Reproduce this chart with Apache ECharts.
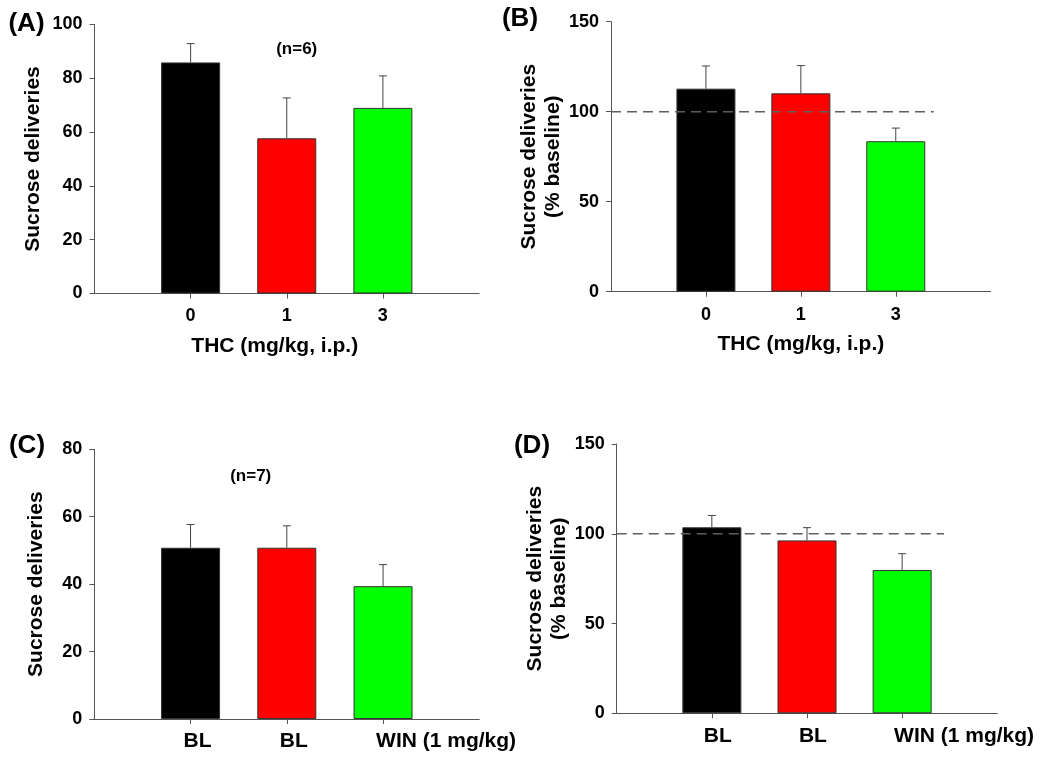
<!DOCTYPE html>
<html>
<head>
<meta charset="utf-8">
<script src="https://cdn.jsdelivr.net/npm/echarts@6/dist/echarts.min.js"></script>
<style>
  html, body { margin: 0; padding: 0; background: #ffffff; }
  #chart { width: 1050px; height: 762px; }
</style>
</head>
<body>
<div id="chart"></div>
<script>
// ---- Data ----
const thcDoses = ['0', '1', '3'];
const winConditions = ['BL', 'BL', 'WIN (1 mg/kg)'];

const panelA_means = [85.9, 57.7, 69.0];
const panelA_sem   = [7.0, 15.0, 11.9];

const panelB_means = [112.8, 110.2, 83.6];
const panelB_sem   = [12.6, 15.4, 7.3];

const panelC_means = [50.8, 50.8, 39.4];
const panelC_sem   = [6.9, 6.5, 6.4];

const panelD_means = [103.6, 96.3, 79.8];
const panelD_sem   = [6.6, 7.1, 9.1];

const barColors = ['#000000', '#ff0000', '#00ff00'];
const baselinePct = 100;
const baselineLineEndB = 3.4;
const baselineLineEndD = 3.44;

const yTicksA = { min: 0, max: 100, interval: 20 };
const yTicksB = { min: 0, max: 150, interval: 50 };
const yTicksC = { min: 0, max: 80, interval: 20 };
const yTicksD = { min: 0, max: 150, interval: 50 };

// ---- Build ----
const FONT = '"Liberation Sans", Arial, Helvetica, sans-serif';
const AXIS_COLOR = '#555555';

const grids = [
  { left: 94.5, top: 24.5, width: 384.5, height: 269 },
  { left: 611, top: 21.7, width: 379.7, height: 270 },
  { left: 94.3, top: 449.3, width: 385, height: 269.7 },
  { left: 616.7, top: 444, width: 380.6, height: 269.3 }
];

function makeXAxis(gi, cats, opts) {
  const pos = cats.map((_, i) => i + 1);
  return {
    type: 'value', gridIndex: gi, min: 0, max: cats.length + 1, interval: 1,
    splitLine: { show: false },
    axisLine: { lineStyle: { color: AXIS_COLOR, width: 1 } },
    axisTick: { show: true, length: 5, inside: false, customValues: pos, lineStyle: { color: AXIS_COLOR } },
    axisLabel: {
      customValues: opts.leftAligned ? pos.map(p => p - opts.labelShift) : pos,
      align: opts.leftAligned ? 'left' : 'center',
      margin: opts.labelMargin,
      color: '#000', fontFamily: FONT, fontWeight: 'bold', fontSize: opts.labelSize,
      formatter: function (v) {
        const idx = Math.round(v) - 1;
        return cats[idx] !== undefined ? cats[idx] : '';
      }
    },
    name: opts.name || '',
    nameLocation: 'middle',
    nameGap: opts.nameGap || 40,
    nameTextStyle: { color: '#000', fontFamily: FONT, fontWeight: 'bold', fontSize: 21, padding: opts.namePadding || 0 }
  };
}

function makeYAxis(gi, ticks, name, nameGap) {
  return {
    type: 'value', gridIndex: gi, min: ticks.min, max: ticks.max, interval: ticks.interval,
    splitLine: { show: false },
    axisLine: { show: true, lineStyle: { color: AXIS_COLOR, width: 1 } },
    axisTick: { show: true, length: 5, lineStyle: { color: AXIS_COLOR } },
    axisLabel: { margin: 12, color: '#000', fontFamily: FONT, fontWeight: 'bold', fontSize: 18 },
    name: name, nameLocation: 'middle', nameRotate: 90, nameGap: nameGap,
    nameTextStyle: { color: '#000', fontFamily: FONT, fontWeight: 'bold', fontSize: 21, lineHeight: 24, align: 'center' }
  };
}

function barSeries(gi, means) {
  return {
    type: 'bar', xAxisIndex: gi, yAxisIndex: gi, barWidth: 59,
    data: means.map((m, i) => ({ value: [i + 1, m], itemStyle: { color: barColors[i] } })),
    itemStyle: { borderColor: '#333', borderWidth: 1 },
    silent: true, z: 2, animation: false
  };
}

function errSeries(gi, means, sems) {
  return {
    type: 'custom', xAxisIndex: gi, yAxisIndex: gi,
    data: means.map((m, i) => [i + 1, m, m + sems[i]]),
    encode: { x: 0, y: [1, 2] },
    renderItem: function (params, api) {
      const p1 = api.coord([api.value(0), api.value(1)]);
      const p2 = api.coord([api.value(0), api.value(2)]);
      const st = { stroke: '#444', lineWidth: 1 };
      return {
        type: 'group', children: [
          { type: 'line', shape: { x1: p1[0], y1: p1[1], x2: p2[0], y2: p2[1] }, style: st },
          { type: 'line', shape: { x1: p2[0] - 4, y1: p2[1], x2: p2[0] + 4, y2: p2[1] }, style: st }
        ]
      };
    },
    z: 3, silent: true, animation: false
  };
}

function refLine(gi, endX) {
  return {
    type: 'line', xAxisIndex: gi, yAxisIndex: gi,
    data: [[0, baselinePct], [endX, baselinePct]],
    symbol: 'none',
    lineStyle: { color: '#606060', width: 1.5, type: [10, 6] },
    z: 5, silent: true, animation: false
  };
}

const option = {
  backgroundColor: '#ffffff',
  animation: false,
  grid: grids,
  xAxis: [
    makeXAxis(0, thcDoses, { labelSize: 18, labelMargin: 14, name: 'THC (mg/kg, i.p.)', nameGap: 42, namePadding: [0, 24, 0, 0] }),
    makeXAxis(1, thcDoses, { labelSize: 18, labelMargin: 14, name: 'THC (mg/kg, i.p.)', nameGap: 42 }),
    makeXAxis(2, winConditions, { labelSize: 21, labelMargin: 12, leftAligned: true, labelShift: 0.072 }),
    makeXAxis(3, winConditions, { labelSize: 21, labelMargin: 12, leftAligned: true, labelShift: 0.085 })
  ],
  yAxis: [
    makeYAxis(0, yTicksA, 'Sucrose deliveries', 49),
    makeYAxis(1, yTicksB, 'Sucrose deliveries\n(% baseline)', 45),
    makeYAxis(2, yTicksC, 'Sucrose deliveries', 46),
    makeYAxis(3, yTicksD, 'Sucrose deliveries\n(% baseline)', 45)
  ],
  series: [
    barSeries(0, panelA_means), errSeries(0, panelA_means, panelA_sem),
    barSeries(1, panelB_means), errSeries(1, panelB_means, panelB_sem), refLine(1, baselineLineEndB),
    barSeries(2, panelC_means), errSeries(2, panelC_means, panelC_sem),
    barSeries(3, panelD_means), errSeries(3, panelD_means, panelD_sem), refLine(3, baselineLineEndD)
  ],
  graphic: [
    { type: 'text', x: 26.5, y: 24, style: { text: '(A)', font: 'bold 26px ' + FONT, fill: '#000', textAlign: 'center', textVerticalAlign: 'middle' } },
    { type: 'text', x: 520, y: 19, style: { text: '(B)', font: 'bold 26px ' + FONT, fill: '#000', textAlign: 'center', textVerticalAlign: 'middle' } },
    { type: 'text', x: 27, y: 446, style: { text: '(C)', font: 'bold 26px ' + FONT, fill: '#000', textAlign: 'center', textVerticalAlign: 'middle' } },
    { type: 'text', x: 532, y: 446, style: { text: '(D)', font: 'bold 26px ' + FONT, fill: '#000', textAlign: 'center', textVerticalAlign: 'middle' } },
    { type: 'text', x: 296.7, y: 49.3, style: { text: '(n=6)', font: 'bold 17px ' + FONT, fill: '#000', textAlign: 'center', textVerticalAlign: 'middle' } },
    { type: 'text', x: 250.7, y: 476.7, style: { text: '(n=7)', font: 'bold 17px ' + FONT, fill: '#000', textAlign: 'center', textVerticalAlign: 'middle' } }
  ]
};

const chart = echarts.init(document.getElementById('chart'), null, { renderer: 'canvas' });
chart.setOption(option);
</script>
</body>
</html>
